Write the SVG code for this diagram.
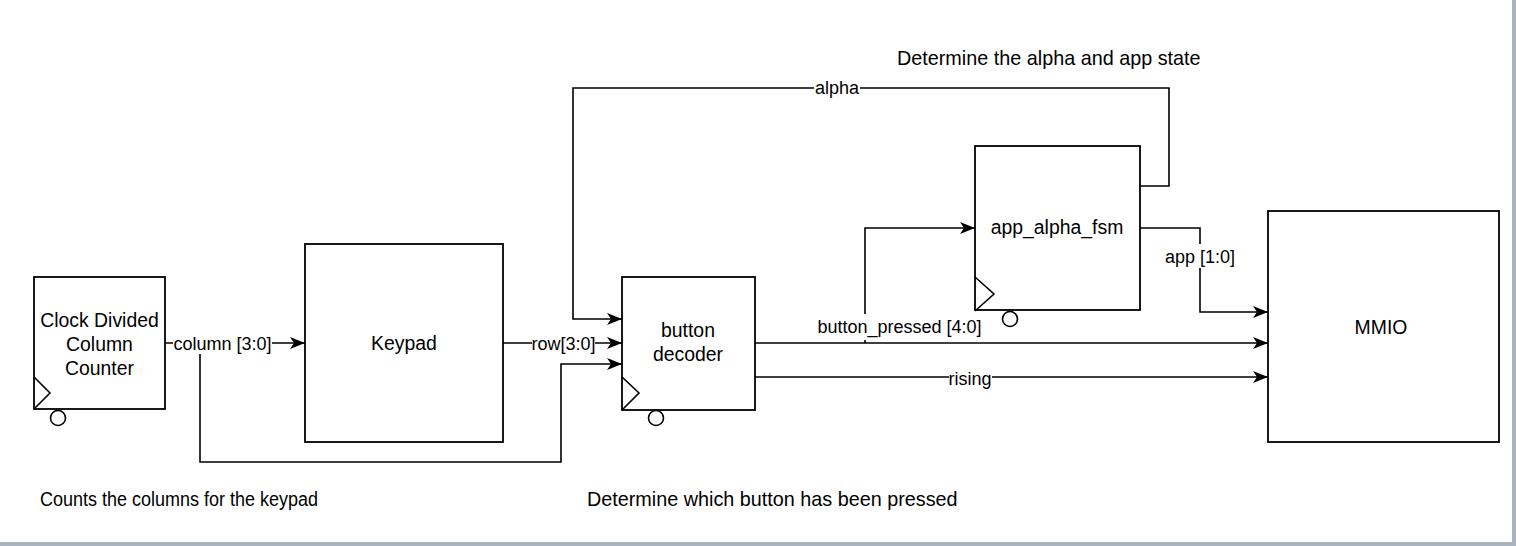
<svg xmlns="http://www.w3.org/2000/svg" width="1516" height="546" viewBox="0 0 1516 546">
<style>
.box{fill:#fff;stroke:#000;stroke-width:1.8}
.clk{fill:none;stroke:#000;stroke-width:1.6}
.bub{fill:#fff;stroke:#000;stroke-width:1.6}
.wire{fill:none;stroke:#000;stroke-width:1.6}
.arr{marker-end:url(#ah)}
.t{font-family:"Liberation Sans",Arial,Helvetica,sans-serif;font-size:19.4px;fill:#000}
.n{font-size:19.8px}
.l{font-family:"Liberation Sans",Arial,Helvetica,sans-serif;font-size:18px;fill:#000;text-anchor:middle}
.c{text-anchor:middle}
.bg{fill:#fff}
</style>
<defs>
<marker id="ah" markerUnits="userSpaceOnUse" markerWidth="15" markerHeight="12" viewBox="0 0 15 12" refX="15" refY="6" orient="auto">
<path d="M0,0 L15,6 L0,12 L4,6 Z" fill="#000"/>
</marker>
</defs>
<rect x="0" y="0" width="1516" height="546" fill="#fff"/>
<rect x="1512" y="0" width="4" height="546" fill="#a9b3bf"/>
<rect x="0" y="542" width="1516" height="4" fill="#a9b3bf"/>

<g id="connectors">
<path class="wire arr" d="M165,343 H305"/>
<path class="wire arr" d="M200,343 V462 H561 V364 H622"/>
<path class="wire arr" d="M503,343 H622"/>
<path class="wire arr" d="M1140,186 H1169 V88 H573 V319 H622"/>
<path class="wire arr" d="M755,343 H1268"/>
<path class="wire arr" d="M865,343 V228 H975"/>
<path class="wire arr" d="M755,377 H1268"/>
<path class="wire arr" d="M1140,228 H1200 V312 H1268"/>
<rect class="bg" x="173" y="333" width="99" height="21"/>
<text class="l" x="222.5" y="350">column [3:0]</text>
<rect class="bg" x="532" y="333" width="63" height="21"/>
<text class="l" x="563.5" y="350">row[3:0]</text>
<rect class="bg" x="814" y="78" width="46" height="21"/>
<text class="l" x="837" y="94">alpha</text>
<rect class="bg" x="817" y="314" width="166" height="26"/>
<text class="l" x="899.5" y="333">button_pressed [4:0]</text>
<rect class="bg" x="949" y="368" width="43" height="20"/>
<text class="l" x="970" y="385">rising</text>
<rect class="bg" x="1165" y="244" width="70" height="24"/>
<text class="l" x="1200" y="263">app [1:0]</text>
</g>

<g id="clock-counter">
<rect class="box" x="34" y="277" width="131" height="132"/>
<polyline class="clk" points="34,377 50,393 34,409"/>
<circle class="bub" cx="58" cy="418" r="7.5"/>
<text class="t c" x="99.5" y="327">Clock Divided</text>
<text class="t c" x="99.5" y="351">Column</text>
<text class="t c" x="99.5" y="375">Counter</text>
</g>

<g id="keypad">
<rect class="box" x="305" y="244" width="198" height="198"/>
<text class="t c" x="404" y="350">Keypad</text>
</g>

<g id="button-decoder">
<rect class="box" x="622" y="277" width="133" height="133"/>
<polyline class="clk" points="622,377 639,393 622,410"/>
<circle class="bub" cx="656" cy="418" r="7.5"/>
<text class="t c" x="688" y="337">button</text>
<text class="t c" x="688" y="361">decoder</text>
</g>

<g id="app-alpha-fsm">
<rect class="box" x="975" y="146" width="165" height="164"/>
<polyline class="clk" points="975,277 994,294 975,311"/>
<circle class="bub" cx="1010" cy="319" r="7.5"/>
<text class="t c" x="1057" y="234">app_alpha_fsm</text>
</g>

<g id="mmio">
<rect class="box" x="1268" y="211" width="231" height="231"/>
<text class="t c" x="1381" y="334">MMIO</text>
</g>

<g id="notes">
<text class="t n" x="897" y="65">Determine the alpha and app state</text>
<text class="t" x="40" y="506" textLength="278" lengthAdjust="spacingAndGlyphs">Counts the columns for the keypad</text>
<text class="t n" x="587" y="506">Determine which button has been pressed</text>
</g>
</svg>
